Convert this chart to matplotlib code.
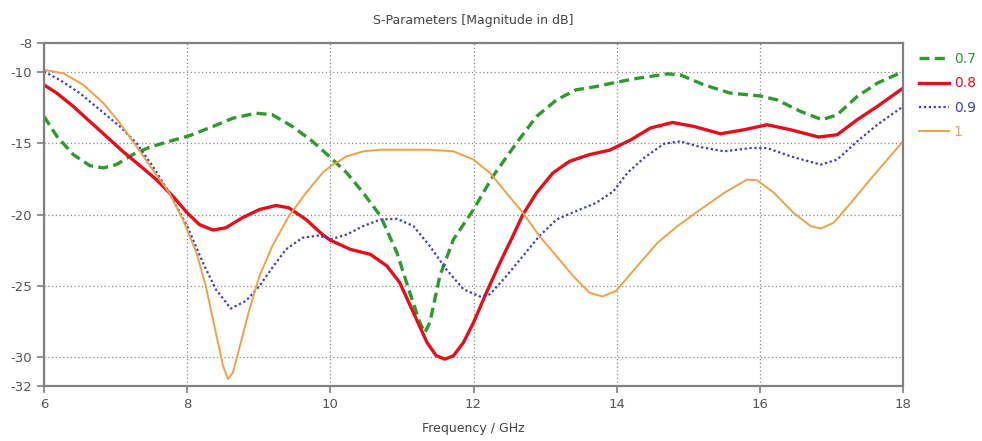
import matplotlib
matplotlib.use("Agg")
import matplotlib.pyplot as plt

# Reflection magnitude vs frequency for four parameter values
labels = ["0.7", "0.8", "0.9", "1"]

freq_07 = [6.0, 6.18, 6.41, 6.64, 6.83, 7.01, 7.24, 7.48, 7.8, 8.03, 8.36, 8.64, 8.96, 9.19,
           9.47, 9.75, 10.0, 10.23, 10.46, 10.7, 10.93, 11.11, 11.25, 11.32, 11.39, 11.53,
           11.72, 12.0, 12.27, 12.6, 12.88, 13.16, 13.43, 13.71, 13.99, 14.29, 14.71, 14.89,
           15.22, 15.59, 16.0, 16.24, 16.57, 16.87, 17.08, 17.36, 17.64, 18.0]
s11_07 = [-13.14, -14.53, -15.81, -16.58, -16.74, -16.51, -15.81, -15.28, -14.81, -14.49,
          -13.84, -13.26, -12.91, -13.02, -13.84, -14.88, -16.0, -17.09, -18.49, -20.1,
          -22.67, -25.47, -27.56, -28.26, -27.56, -24.3, -21.74, -19.65, -17.33, -15.0,
          -13.14, -11.98, -11.28, -11.05, -10.75, -10.47, -10.16, -10.23, -10.93, -11.51,
          -11.7, -11.98, -12.79, -13.37, -13.02, -11.74, -10.81, -10.0]

freq_08 = [6.0, 6.18, 6.41, 6.64, 6.87, 7.1, 7.34, 7.57, 7.8, 8.0, 8.17, 8.36, 8.54, 8.77,
           9.01, 9.24, 9.42, 9.66, 9.89, 10.0, 10.28, 10.56, 10.79, 10.97, 11.16, 11.35,
           11.48, 11.6, 11.72, 11.86, 12.0, 12.18, 12.37, 12.55, 12.69, 12.88, 13.11, 13.34,
           13.62, 13.9, 14.2, 14.47, 14.78, 15.08, 15.45, 15.78, 16.1, 16.43, 16.82, 17.08,
           17.36, 17.64, 18.0]
s11_08 = [-10.93, -11.51, -12.44, -13.49, -14.53, -15.58, -16.58, -17.56, -18.72, -19.88,
          -20.7, -21.09, -20.93, -20.23, -19.65, -19.37, -19.53, -20.35, -21.4, -21.8,
          -22.44, -22.79, -23.6, -24.77, -26.86, -28.95, -29.88, -30.12, -29.88, -28.95,
          -27.56, -25.47, -23.37, -21.51, -20.0, -18.49, -17.09, -16.28, -15.81, -15.5,
          -14.77, -13.95, -13.56, -13.84, -14.35, -14.07, -13.72, -14.07, -14.58, -14.42,
          -13.37, -12.44, -11.16]

freq_09 = [6.0, 6.22, 6.5, 6.78, 7.06, 7.29, 7.52, 7.75, 8.0, 8.22, 8.4, 8.61, 8.82, 9.01,
           9.19, 9.38, 9.61, 9.84, 10.0, 10.23, 10.46, 10.7, 10.93, 11.16, 11.39, 11.62,
           11.86, 12.09, 12.23, 12.46, 12.69, 12.92, 13.16, 13.43, 13.71, 13.95, 14.15,
           14.38, 14.66, 14.89, 15.17, 15.5, 15.87, 16.1, 16.43, 16.85, 17.08, 17.36, 17.64,
           18.0]
s11_09 = [-10.0, -10.58, -11.51, -12.67, -13.84, -15.0, -16.63, -18.49, -20.81, -23.37,
          -25.23, -26.58, -26.05, -25.0, -23.72, -22.44, -21.63, -21.47, -21.74, -21.4,
          -20.81, -20.35, -20.3, -20.81, -22.21, -23.84, -25.23, -25.74, -25.58, -24.3,
          -22.91, -21.51, -20.35, -19.77, -19.19, -18.4, -17.09, -16.05, -15.05, -14.88,
          -15.28, -15.58, -15.35, -15.35, -15.93, -16.51, -16.16, -14.88, -13.72, -12.44]

freq_10 = [6.0, 6.27, 6.55, 6.83, 7.06, 7.29, 7.52, 7.75, 7.94, 8.13, 8.26, 8.4, 8.5, 8.57,
           8.64, 8.75, 8.87, 9.01, 9.19, 9.42, 9.66, 9.89, 10.0, 10.23, 10.46, 10.7, 11.39,
           11.72, 12.0, 12.23, 12.46, 12.69, 12.92, 13.16, 13.39, 13.62, 13.8, 13.99, 14.29,
           14.57, 14.85, 15.17, 15.5, 15.82, 15.96, 16.2, 16.47, 16.71, 16.85, 17.03, 17.27,
           17.54, 17.82, 18.0]
s11_10 = [-9.88, -10.12, -10.93, -12.21, -13.6, -15.23, -16.86, -18.49, -20.35, -22.67,
          -25.0, -28.26, -30.58, -31.51, -31.05, -28.95, -26.63, -24.3, -22.21, -20.12,
          -18.49, -17.09, -16.63, -15.93, -15.58, -15.47, -15.47, -15.58, -16.16, -17.09,
          -18.49, -19.88, -21.51, -22.91, -24.3, -25.47, -25.74, -25.35, -23.6, -21.98,
          -20.81, -19.65, -18.49, -17.56, -17.6, -18.49, -19.88, -20.81, -20.98, -20.58,
          -19.19, -17.56, -15.93, -14.88]

x_ticks = [6, 8, 10, 12, 14, 16, 18]
y_ticks = [-8, -10, -15, -20, -25, -30, -32]

fig = plt.figure(figsize=(9.82, 4.41), dpi=100)
ax = fig.add_axes([0.0448, 0.1247, 0.8748, 0.7778])

series = [
    (freq_07, s11_07, dict(color="#2e9a2e", lw=2.4, ls=(0, (3.0, 1.6)))),
    (freq_08, s11_08, dict(color="#e3101c", lw=2.4, ls="-")),
    (freq_09, s11_09, dict(color="#3a3ad0", lw=1.6, ls=(0, (1.0, 1.2)))),
    (freq_10, s11_10, dict(color="#f0a048", lw=1.4, ls="-")),
]
handles = []
for (fx, fy, style), lab in zip(series, labels):
    h, = ax.plot(fx, fy, label=lab, solid_joinstyle="round", dash_joinstyle="round", **style)
    handles.append(h)

ax.set_xlim(6, 18)
ax.set_ylim(-32, -8)
ax.set_xticks(x_ticks)
ax.set_yticks(y_ticks)
ax.set_xticklabels([str(t) for t in x_ticks])
ax.set_yticklabels([str(t) for t in y_ticks])

ax.grid(True, color="#8a8a8a", lw=0.9, ls=(0, (1, 2)))
ax.set_axisbelow(True)
for sp in ax.spines.values():
    sp.set_color("#808080")
    sp.set_linewidth(1.6)
ax.tick_params(axis="both", colors="#808080", labelcolor="#555555", labelsize=9.5,
               length=5, width=1.2, direction="out")

ax.set_title("S-Parameters [Magnitude in dB]", fontsize=9, color="#444444", pad=14)
ax.set_xlabel("Frequency / GHz", fontsize=9, color="#444444", labelpad=8)

leg = ax.legend(handles=handles, loc="upper left", bbox_to_anchor=(1.012, 0.99),
                frameon=False, fontsize=10, handlelength=2.2, handletextpad=0.3,
                labelspacing=0.75, borderaxespad=0.0)
for txt, h in zip(leg.get_texts(), handles):
    txt.set_color(h.get_color())

fig.savefig("out.png", dpi=100)
